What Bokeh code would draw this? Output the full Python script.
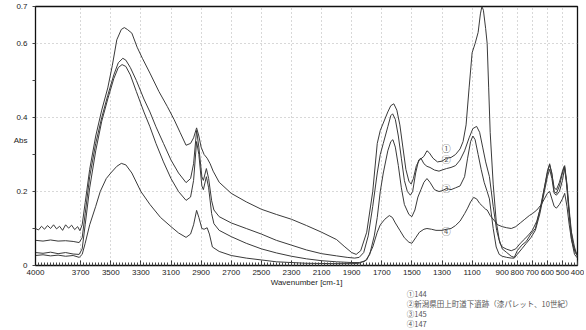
from bokeh.plotting import figure
from bokeh.models import Range1d, FixedTicker, Label, ColumnDataSource
from bokeh.layouts import column
from bokeh.core.properties import value
from bokeh.embed import file_html
from bokeh.resources import INLINE

# ---- data (wavenumber cm-1, absorbance) ----
s1 = [(4000,0.100),(3980,0.096),(3960,0.106),(3940,0.098),(3920,0.108),(3900,0.100),(3880,0.110),(3860,0.099),(3840,0.106),(3820,0.095),(3800,0.110),(3780,0.101),(3760,0.109),(3740,0.097),(3720,0.105),(3705,0.094),(3690,0.110),(3670,0.170),(3640,0.260),(3600,0.350),(3560,0.420),(3520,0.480),(3490,0.540),(3460,0.610),(3430,0.638),(3410,0.643),(3390,0.638),(3360,0.628),(3325,0.590),(3290,0.560),(3240,0.520),(3180,0.470),(3125,0.430),(3080,0.395),(3040,0.360),(3000,0.325),(2970,0.330),(2950,0.345),(2930,0.372),(2915,0.350),(2900,0.320),(2880,0.300),(2860,0.290),(2840,0.275),(2820,0.255),(2780,0.225),(2700,0.195),(2600,0.172),(2500,0.152),(2400,0.138),(2300,0.125),(2200,0.108),(2100,0.090),(2000,0.070),(1950,0.052),(1900,0.035),(1870,0.030),(1840,0.040),(1800,0.090),(1760,0.200),(1730,0.330),(1710,0.365),(1690,0.385),(1660,0.415),(1640,0.432),(1620,0.437),(1600,0.420),(1580,0.380),(1560,0.320),(1540,0.260),(1520,0.228),(1505,0.220),(1490,0.235),(1470,0.270),(1450,0.285),(1420,0.295),(1400,0.310),(1385,0.305),(1360,0.290),(1330,0.280),(1300,0.282),(1270,0.290),(1240,0.292),(1210,0.300),(1180,0.315),(1160,0.335),(1140,0.380),(1120,0.480),(1100,0.575),(1080,0.600),(1060,0.630),(1045,0.680),(1035,0.700),(1025,0.690),(1010,0.640),(1000,0.600),(990,0.480),(980,0.360),(960,0.220),(940,0.120),(920,0.070),(900,0.045),(870,0.035),(840,0.025),(820,0.022),(800,0.040),(770,0.055),(740,0.065),(710,0.085),(680,0.100),(650,0.150),(620,0.210),(600,0.250),(585,0.272),(570,0.250),(555,0.200),(540,0.195),(520,0.215),(500,0.250),(488,0.268),(475,0.230),(460,0.160),(445,0.100),(430,0.060),(415,0.035),(400,0.025)]
s2 = [(4000,0.068),(3950,0.066),(3900,0.069),(3850,0.066),(3800,0.067),(3750,0.065),(3710,0.062),(3690,0.075),(3670,0.140),(3640,0.240),(3600,0.330),(3560,0.400),(3520,0.460),(3480,0.515),(3450,0.548),(3420,0.560),(3400,0.555),(3370,0.535),(3330,0.500),(3280,0.450),(3240,0.415),(3200,0.375),(3150,0.330),(3100,0.285),(3050,0.250),(3000,0.224),(2970,0.235),(2950,0.275),(2930,0.365),(2915,0.320),(2895,0.240),(2885,0.230),(2865,0.262),(2850,0.235),(2830,0.175),(2815,0.150),(2780,0.132),(2700,0.115),(2600,0.100),(2500,0.085),(2400,0.068),(2300,0.055),(2200,0.042),(2100,0.032),(2000,0.026),(1930,0.022),(1880,0.020),(1850,0.022),(1820,0.035),(1790,0.080),(1760,0.160),(1730,0.250),(1710,0.300),(1690,0.330),(1660,0.375),(1640,0.405),(1628,0.410),(1610,0.395),(1590,0.350),(1570,0.290),(1550,0.230),(1530,0.200),(1510,0.190),(1495,0.200),(1475,0.250),(1455,0.285),(1440,0.290),(1420,0.275),(1400,0.268),(1380,0.265),(1350,0.258),(1320,0.255),(1300,0.258),(1270,0.262),(1240,0.265),(1210,0.270),(1180,0.285),(1150,0.310),(1120,0.345),(1095,0.370),(1070,0.376),(1050,0.360),(1030,0.320),(1010,0.280),(985,0.240),(960,0.160),(937,0.095),(915,0.060),(900,0.050),(870,0.044),(840,0.040),(810,0.045),(780,0.060),(750,0.072),(720,0.085),(700,0.095),(670,0.120),(640,0.165),(620,0.210),(600,0.255),(585,0.275),(570,0.245),(555,0.210),(540,0.205),(520,0.225),(500,0.255),(485,0.270),(470,0.220),(455,0.150),(440,0.090),(420,0.050),(405,0.030),(400,0.028)]
s3 = [(4000,0.035),(3950,0.033),(3900,0.036),(3850,0.032),(3800,0.035),(3750,0.031),(3710,0.030),(3690,0.045),(3670,0.110),(3640,0.210),(3600,0.310),(3560,0.390),(3520,0.450),(3480,0.505),(3450,0.535),(3425,0.543),(3400,0.538),(3370,0.515),(3330,0.470),(3280,0.415),(3240,0.375),(3200,0.330),(3150,0.280),(3100,0.235),(3050,0.200),(3000,0.176),(2970,0.185),(2950,0.230),(2930,0.335),(2915,0.300),(2895,0.215),(2885,0.205),(2865,0.240),(2850,0.210),(2830,0.140),(2815,0.113),(2780,0.095),(2700,0.078),(2600,0.060),(2500,0.045),(2400,0.034),(2300,0.025),(2200,0.018),(2100,0.013),(2000,0.010),(1900,0.008),(1850,0.008),(1810,0.012),(1780,0.030),(1750,0.080),(1730,0.130),(1710,0.200),(1690,0.250),(1660,0.310),(1640,0.335),(1626,0.340),(1610,0.320),(1590,0.270),(1570,0.210),(1550,0.165),(1520,0.138),(1500,0.132),(1480,0.150),(1460,0.185),(1440,0.205),(1420,0.225),(1400,0.235),(1380,0.225),(1350,0.205),(1320,0.200),(1300,0.202),(1270,0.208),(1240,0.205),(1210,0.210),(1180,0.215),(1150,0.240),(1130,0.290),(1110,0.335),(1095,0.350),(1080,0.340),(1060,0.300),(1040,0.260),(1020,0.225),(1000,0.200),(985,0.180),(960,0.100),(940,0.050),(920,0.030),(900,0.025),(870,0.022),(840,0.020),(820,0.020),(800,0.030),(770,0.045),(740,0.060),(710,0.075),(680,0.095),(650,0.140),(620,0.200),(600,0.240),(585,0.260),(570,0.235),(555,0.195),(540,0.190),(520,0.200),(500,0.230),(485,0.265),(470,0.215),(455,0.140),(440,0.070),(420,0.030),(400,0.020)]
s4 = [(4000,0.027),(3950,0.029),(3900,0.026),(3850,0.028),(3800,0.025),(3750,0.027),(3710,0.022),(3690,0.030),(3670,0.060),(3640,0.110),(3600,0.160),(3570,0.200),(3530,0.235),(3500,0.250),(3460,0.268),(3430,0.276),(3400,0.272),(3360,0.250),(3300,0.200),(3240,0.165),(3170,0.130),(3100,0.105),(3050,0.088),(3000,0.076),(2970,0.085),(2950,0.110),(2930,0.149),(2915,0.130),(2895,0.100),(2880,0.098),(2860,0.102),(2845,0.085),(2825,0.050),(2780,0.038),(2700,0.027),(2600,0.020),(2500,0.015),(2400,0.010),(2300,0.008),(2200,0.006),(2000,0.005),(1900,0.005),(1850,0.006),(1800,0.015),(1760,0.050),(1730,0.090),(1710,0.110),(1680,0.125),(1650,0.135),(1630,0.130),(1610,0.115),(1580,0.095),(1550,0.075),(1520,0.063),(1500,0.060),(1475,0.075),(1450,0.090),(1420,0.098),(1400,0.100),(1370,0.098),(1340,0.095),(1300,0.095),(1270,0.098),(1240,0.100),(1210,0.108),(1180,0.120),(1150,0.140),(1130,0.155),(1110,0.172),(1090,0.184),(1070,0.180),(1050,0.168),(1030,0.160),(1010,0.152),(1000,0.150),(980,0.135),(950,0.120),(930,0.110),(900,0.105),(870,0.102),(840,0.100),(810,0.105),(780,0.115),(750,0.125),(720,0.135),(700,0.140),(670,0.150),(640,0.165),(620,0.180),(600,0.195),(585,0.200),(570,0.180),(555,0.160),(540,0.155),(520,0.165),(500,0.180),(485,0.195),(470,0.160),(455,0.110),(440,0.070),(420,0.040),(400,0.030)]

x_ticks = [4000, 3700, 3500, 3300, 3100, 2900, 2700, 2500, 2300, 2100, 1900, 1700, 1500, 1300, 1100, 900, 800, 700, 600, 500, 400]
x_minor = list(range(400, 4001, 20))
y_labels = {0: "0", 0.2: "0.2", 0.338: "Abs", 0.4: "0.4", 0.6: "0.6", 0.7: "0.7"}
y_minor = [0, 0.1, 0.2, 0.3, 0.4, 0.5, 0.6, 0.7]

series_marks = ["①", "②", "③", "④"]
legend_lines = ["①144", "②新潟県田上町道下遺跡（漆パレット、10世紀）", "③145", "④147"]

W = 584
p = figure(width=W, height=289, x_range=Range1d(4000, 400), y_range=Range1d(0, 0.7),
           output_backend="svg", toolbar_location=None,
           min_border_left=35, min_border_right=7, min_border_top=6, min_border_bottom=24)
p.background_fill_color = "white"
p.border_fill_color = "white"
p.outline_line_color = "#111111"
p.outline_line_width = 1.3

for s in (s1, s2, s3, s4):
    xs = [a for a, b in s]
    ys = [b for a, b in s]
    p.line(xs, ys, line_color="#3a3a3a", line_width=1)

# axes
p.xaxis.ticker = FixedTicker(ticks=x_ticks, minor_ticks=x_minor)
p.yaxis.ticker = FixedTicker(ticks=list(y_labels.keys()), minor_ticks=y_minor)
p.yaxis.major_label_overrides = y_labels
for ax in (p.xaxis, p.yaxis):
    ax.axis_line_color = "#111111"
    ax.major_tick_line_color = "#333333"
    ax.minor_tick_line_color = "#444444"
    ax.major_label_text_font = "Liberation Sans"
    ax.major_label_text_font_size = "8px"
    ax.major_label_text_color = "#222222"
p.xaxis.major_tick_in = 5
p.xaxis.major_tick_out = 0
p.xaxis.minor_tick_in = 3
p.xaxis.minor_tick_out = 0
p.xaxis.major_label_standoff = 4
p.yaxis.major_tick_in = 0
p.yaxis.major_tick_out = 0
p.yaxis.minor_tick_in = 0
p.yaxis.minor_tick_out = 3
p.yaxis.major_label_standoff = 5
p.xaxis.axis_label = "Wavenumber [cm-1]"
p.xaxis.axis_label_text_font = "Liberation Sans"
p.xaxis.axis_label_text_font_style = "normal"
p.xaxis.axis_label_text_font_size = "8px"
p.xaxis.axis_label_text_color = "#222222"
p.xaxis.axis_label_standoff = 0

p.xgrid.ticker = FixedTicker(ticks=x_ticks)
p.ygrid.ticker = FixedTicker(ticks=[0.2, 0.4, 0.6])
p.grid.grid_line_color = "#b0b0b0"
p.grid.grid_line_dash = "1 3"
p.grid.grid_line_width = 1

# curve markers inside the plot
mark_pos = [(1271, 0.317), (1271, 0.286), (1271, 0.208), (1271, 0.092)]
for (mx, my), t in zip(mark_pos, series_marks):
    p.add_layout(Label(x=mx, y=my, text=t, text_font="Noto Sans CJK JP", text_font_size="9px",
                       text_color="#555555", text_baseline="middle", text_align="center"))

# legend lines in a text strip below the chart
H2 = 41
q = figure(width=W, height=H2, x_range=Range1d(0, W), y_range=Range1d(0, H2),
           x_axis_type=None, y_axis_type=None, output_backend="svg", toolbar_location=None,
           min_border=0)
q.outline_line_color = None
q.background_fill_color = "white"
q.border_fill_color = "white"
leg_src = ColumnDataSource(dict(
    x=[400] * len(legend_lines),
    y=[H2 - 4 - 10 * i for i in range(len(legend_lines))],
    t=legend_lines))
q.text(x="x", y="y", text="t", source=leg_src, text_font=value("Noto Sans CJK JP"),
       text_font_size="7.5px", text_color="#555555", text_baseline="middle", text_align="left")

open("out.html", "w").write(file_html(column(p, q, spacing=0), INLINE))
